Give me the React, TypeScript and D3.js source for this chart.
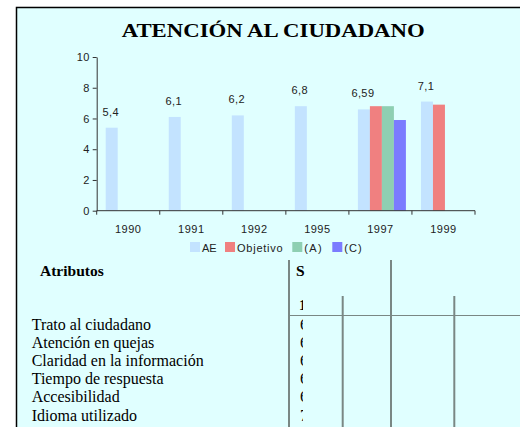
import React, { useEffect, useRef } from 'react';
import * as d3 from 'd3';

const years = ['1990', '1991', '1992', '1995', '1997', '1999'];
const seriesNames = ['AE', 'Objetivo', '(A)', '(C)'];
const ae = [5.4, 6.1, 6.2, 6.8, 6.59, 7.1];
const objetivo = [null, null, null, null, 6.8, 6.9];
const serieA = [null, null, null, null, 6.8, null];
const serieC = [null, null, null, null, 5.9, null];
const yTicks = [0, 2, 4, 6, 8, 10];

const atributos = [
  'Trato al ciudadano',
  'Atención en quejas',
  'Claridad en la información',
  'Tiempo de respuesta',
  'Accesibilidad',
  'Idioma utilizado',
];
const cellValues = ['6', '6', '6', '6', '6', '7'];
const colors = ['#C3E3FF', '#F08080', '#8ECFB2', '#7B7BFF'];

export default function App() {
  const svgRef = useRef<SVGSVGElement>(null);

  useEffect(() => {
    const svg = d3.select(svgRef.current);
    svg.selectAll('*').remove();
    const sans = 'Liberation Sans, Arial, sans-serif';
    const serif = 'Liberation Serif, Times New Roman, serif';

    // marco
    svg.append('rect').attr('x', 16.5).attr('y', 7.5).attr('width', 520).attr('height', 430)
      .attr('fill', '#E0FFFF').attr('stroke', '#000').attr('stroke-width', 1.5);
    svg.append('line').attr('x1', 16).attr('x2', 520).attr('y1', 6.5).attr('y2', 6.5)
      .attr('stroke', '#bbb');

    svg.append('text').attr('x', 121.7).attr('y', 36.5)
      .attr('font-family', serif).attr('font-weight', 'bold').attr('font-size', 19.5)
      .attr('textLength', 303).attr('lengthAdjust', 'spacingAndGlyphs')
      .text('ATENCIÓN AL CIUDADANO');

    const x = d3.scaleBand().domain(years).range([96.7, 475]);
    const xs = d3.scaleBand().domain(seriesNames).range([9, 57]);
    const y = d3.scaleLinear().domain([0, 10]).range([210.7, 57]);

    const all = [ae, objetivo, serieA, serieC];
    const g = svg.append('g');
    all.forEach((vals, si) => {
      vals.forEach((v, i) => {
        if (v == null) return;
        g.append('rect')
          .attr('x', x(years[i])! + xs(seriesNames[si])!)
          .attr('y', y(v))
          .attr('width', xs.bandwidth())
          .attr('height', y(0) - y(v))
          .attr('fill', colors[si]);
      });
    });

    // etiquetas AE
    ae.forEach((v, i) => {
      g.append('text')
        .attr('x', x(years[i])! + xs('AE')! + xs.bandwidth() / 2 - 1)
        .attr('y', y(v) - 12)
        .attr('text-anchor', 'middle')
        .attr('font-family', sans).attr('letter-spacing', 0.4)
        .attr('font-size', 11).attr('fill', '#222')
        .text(String(v).replace('.', ','));
    });

    // eje y
    const ya = svg.append('g').attr('transform', 'translate(96.7,0)')
      .call(d3.axisLeft(y).tickValues(yTicks).tickSize(4).tickSizeOuter(0));
    ya.select('.domain').attr('stroke', '#333');
    ya.selectAll('line').attr('stroke', '#333');
    ya.selectAll('text').attr('font-family', sans).attr('letter-spacing', 0.4)
      .attr('font-size', 11).attr('fill', '#222').attr('x', -7);

    // eje x
    const xa = svg.append('g').attr('transform', `translate(0,${y(0)})`);
    xa.append('line').attr('x1', 96.7).attr('x2', 475).attr('stroke', '#333');
    [...years.map(d => x(d)!), 475].forEach(px => {
      xa.append('line').attr('x1', px).attr('x2', px).attr('y1', 0).attr('y2', 4).attr('stroke', '#333');
    });
    years.forEach(d => {
      xa.append('text').attr('x', x(d)! + x.bandwidth() / 2).attr('y', 22)
        .attr('text-anchor', 'middle').attr('letter-spacing', 0.5)
        .attr('font-family', sans).attr('font-size', 11).attr('fill', '#222').text(d);
    });

    // leyenda
    const legendX = [190, 225, 292.3, 332.3];
    const legendW = [14.7, 45.7, 17.4, 17.4];
    seriesNames.forEach((s, i) => {
      svg.append('rect').attr('x', legendX[i]).attr('y', 242).attr('width', 10).attr('height', 10)
        .attr('fill', colors[i]);
      svg.append('text').attr('x', legendX[i] + 12).attr('y', 251.5)
        .attr('font-family', sans).attr('font-size', 11).attr('fill', '#222')
        .attr('textLength', legendW[i]).attr('lengthAdjust', 'spacing').text(s);
    });

    // tabla
    svg.append('text').attr('x', 40).attr('y', 276).attr('font-family', serif)
      .attr('font-weight', 'bold').attr('font-size', 15.5).text('Atributos');
    svg.append('text').attr('x', 296).attr('y', 276).attr('font-family', serif)
      .attr('font-weight', 'bold').attr('font-size', 15.5).text('S');

    atributos.forEach((a, i) => {
      svg.append('text').attr('x', 31.7).attr('y', 330 + i * 18.1).attr('font-family', serif)
        .attr('font-size', 16).text(a);
    });

    const defs = svg.append('defs');
    defs.append('clipPath').attr('id', 'cell').append('rect')
      .attr('x', 290).attr('y', 290).attr('width', 13).attr('height', 140);
    const cg = svg.append('g').attr('clip-path', 'url(#cell)');
    cg.append('text').attr('x', 299).attr('y', 310).attr('font-family', serif)
      .attr('font-weight', 'bold').attr('font-size', 15).text('1997');
    cellValues.forEach((v, i) => {
      cg.append('text').attr('x', 300).attr('y', 330 + i * 18.1).attr('font-family', serif)
        .attr('font-size', 16).text(v);
    });

    const lc = '#7A8784';
    [[289, 260], [391, 260], [342.7, 296], [454.3, 296]].forEach(([lx, ly]) => {
      svg.append('line').attr('x1', lx).attr('x2', lx).attr('y1', ly).attr('y2', 427)
        .attr('stroke', lc).attr('stroke-width', 2);
    });
    svg.append('line').attr('x1', 289).attr('x2', 520).attr('y1', 315.5).attr('y2', 315.5)
      .attr('stroke', lc).attr('stroke-width', 1);
  }, []);

  return (
    <svg ref={svgRef} width={520} height={427}
      style={{ position: 'absolute', left: 0, top: 0 }} />
  );
}
